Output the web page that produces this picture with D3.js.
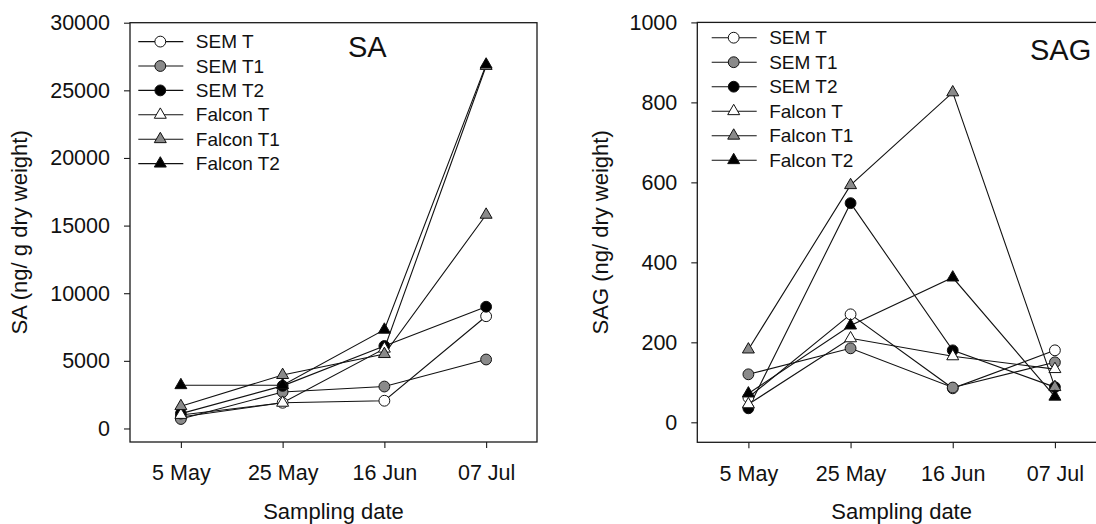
<!DOCTYPE html>
<html>
<head>
<meta charset="utf-8">
<script src="https://cdn.jsdelivr.net/npm/d3@7"></script>
<style>
  html, body { margin: 0; padding: 0; background: #fff; }
  svg { display: block; font-family: "Liberation Sans", Arial, sans-serif; }
</style>
</head>
<body>
<svg id="chart" width="1096" height="524"></svg>
<script>
// ---------- data ----------
const dates = ["5 May", "25 May", "16 Jun", "07 Jul"];
const seriesNames = ["SEM T", "SEM T1", "SEM T2", "Falcon T", "Falcon T1", "Falcon T2"];
const seriesShapes = ["circle", "circle", "circle", "triangle", "triangle", "triangle"];
const seriesFills = ["#ffffff", "#8a8a8a", "#000000", "#ffffff", "#8a8a8a", "#000000"];

// SA (ng/ g dry weight)
const saSemT     = [850, 1900, 2050, 8300];
const saSemT1    = [700, 2700, 3100, 5100];
const saSemT2    = [1100, 3150, 6100, 9000];
const saFalconT  = [1000, 1900, 5900, 26800];
const saFalconT1 = [1650, 3950, 5500, 15800];
const saFalconT2 = [3200, 3200, 7300, 26900];
const saTicks = [0, 5000, 10000, 15000, 20000, 25000, 30000];

// SAG (ng/ dry weight)
const sagSemT     = [62, 270, 85, 180];
const sagSemT1    = [120, 185, 87, 150];
const sagSemT2    = [35, 548, 180, 88];
const sagFalconT  = [45, 210, 165, 133];
const sagFalconT1 = [182, 593, 825, 88];
const sagFalconT2 = [72, 242, 362, 64];
const sagTicks = [0, 200, 400, 600, 800, 1000];

// ---------- drawing ----------
const svg = d3.select("#chart");

function panel(cfg) {
  const x = d3.scaleLinear().domain([-0.5, 3.5]).range([cfg.x0, cfg.x1]);
  const y = d3.scaleLinear().domain(cfg.yDomain).range([cfg.y1, cfg.y0]);
  const g = svg.append("g");

  // frame
  g.append("rect")
    .attr("x", cfg.x0).attr("y", cfg.y0)
    .attr("width", cfg.x1 - cfg.x0).attr("height", cfg.y1 - cfg.y0)
    .attr("fill", "none").attr("stroke", "#1a1a1a").attr("stroke-width", 1.3);

  // y axis
  const ya = g.append("g").attr("transform", `translate(${cfg.x0},0)`)
    .call(d3.axisLeft(y).tickValues(cfg.ticks).tickFormat(d3.format("d"))
      .tickSize(6).tickPadding(14));
  ya.select(".domain").remove();
  ya.selectAll("line").attr("stroke", "#1a1a1a").attr("stroke-width", 1.1);
  ya.selectAll("text").attr("font-size", 21.5).attr("fill", "#111")
    .attr("font-family", "Liberation Sans, Arial, sans-serif");

  // x axis
  const xa = g.append("g").attr("transform", `translate(0,${cfg.y1})`)
    .call(d3.axisBottom(x).tickValues(d3.range(dates.length))
      .tickFormat(i => dates[i]).tickSize(6).tickPadding(17));
  xa.select(".domain").remove();
  xa.selectAll("line").attr("stroke", "#1a1a1a").attr("stroke-width", 1.1);
  xa.selectAll("text").attr("font-size", 21.5).attr("fill", "#111")
    .attr("font-family", "Liberation Sans, Arial, sans-serif");

  // axis titles
  g.append("text")
    .attr("x", (cfg.x0 + cfg.x1) / 2).attr("y", 519)
    .attr("text-anchor", "middle").attr("font-size", 22).attr("fill", "#111")
    .text("Sampling date");
  g.append("text")
    .attr("transform", `translate(${cfg.yTitleX},${(cfg.y0 + cfg.y1) / 2}) rotate(-90)`)
    .attr("text-anchor", "middle").attr("font-size", 22).attr("fill", "#111")
    .text(cfg.yTitle);

  // panel title
  g.append("text")
    .attr("x", cfg.titleX).attr("y", cfg.titleY)
    .attr("font-size", 29).attr("fill", "#111")
    .text(cfg.title);

  const line = d3.line().x((d, i) => x(i)).y(d => y(d));
  const tri = d3.symbol().type(d3.symbolTriangle).size(62);
  const circ = d3.symbol().type(d3.symbolCircle).size(92);

  // lines
  cfg.series.forEach(vals => {
    g.append("path").attr("d", line(vals))
      .attr("fill", "none").attr("stroke", "#111").attr("stroke-width", 1.1);
  });
  // markers
  cfg.series.forEach((vals, s) => {
    g.selectAll(null).data(vals).enter().append("path")
      .attr("transform", (d, i) => `translate(${x(i)},${y(d)})`)
      .attr("d", seriesShapes[s] === "circle" ? circ() : tri())
      .attr("fill", seriesFills[s]).attr("stroke", "#111").attr("stroke-width", 1);
  });

  // legend
  seriesNames.forEach((name, s) => {
    const ly = cfg.legY + s * cfg.legStep;
    g.append("line")
      .attr("x1", cfg.legX).attr("x2", cfg.legX + 45)
      .attr("y1", ly).attr("y2", ly)
      .attr("stroke", "#111").attr("stroke-width", 1.1);
    g.append("path")
      .attr("transform", `translate(${cfg.legX + 22},${ly})`)
      .attr("d", seriesShapes[s] === "circle" ? circ() : tri())
      .attr("fill", seriesFills[s]).attr("stroke", "#111").attr("stroke-width", 1);
    g.append("text")
      .attr("x", cfg.legX + 57.5).attr("y", ly).attr("dy", "0.35em")
      .attr("font-size", 19).attr("fill", "#111")
      .text(name);
  });
}

panel({
  x0: 130, x1: 537, y0: 22.7, y1: 442,
  yDomain: [-1000, 30000], ticks: saTicks,
  yTitle: "SA (ng/ g dry weight)", yTitleX: 27,
  title: "SA", titleX: 348, titleY: 57.3,
  legX: 138.3, legY: 41.6, legStep: 24.4,
  series: [saSemT, saSemT1, saSemT2, saFalconT, saFalconT1, saFalconT2]
});

panel({
  x0: 697.3, x1: 1106, y0: 22.4, y1: 442.3,
  yDomain: [-50, 1000], ticks: sagTicks,
  yTitle: "SAG (ng/ dry weight)", yTitleX: 608,
  title: "SAG", titleX: 1030, titleY: 60,
  legX: 711.7, legY: 37.7, legStep: 24.5,
  series: [sagSemT, sagSemT1, sagSemT2, sagFalconT, sagFalconT1, sagFalconT2]
});
</script>
</body>
</html>
